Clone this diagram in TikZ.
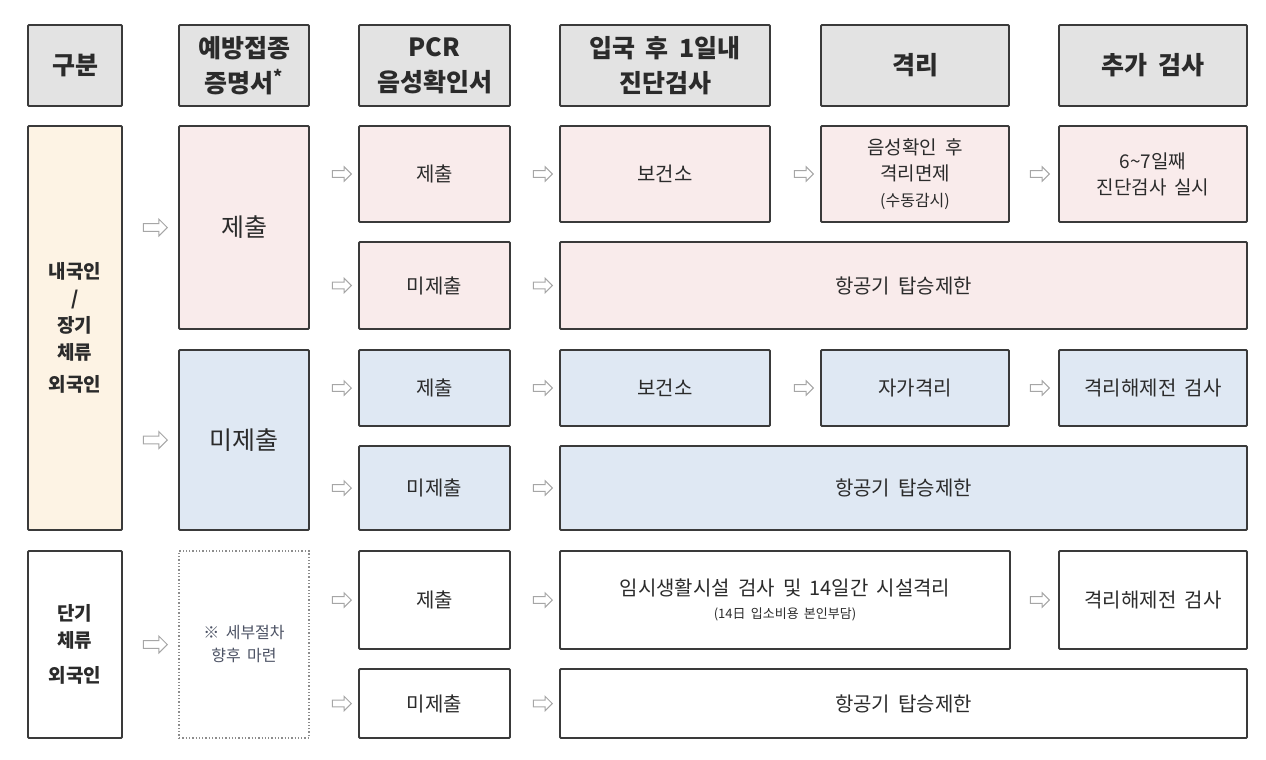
\documentclass[tikz,border=0pt]{standalone}
\usepackage{fontspec}
\setmainfont{Noto Sans CJK KR}[WordSpace=1.8]
\usetikzlibrary{positioning,shapes.arrows}

\definecolor{headgray}{HTML}{E3E3E3}
\definecolor{domyellow}{HTML}{FDF3E4}
\definecolor{rowpink}{HTML}{F9EBEB}
\definecolor{rowblue}{HTML}{DFE8F3}
\definecolor{edge}{HTML}{3A3A3A}
\definecolor{ink}{HTML}{2B2B2B}
\definecolor{note}{HTML}{4C5264}

\tikzset{
  box/.style={draw=edge, line width=1.8pt, rounded corners=1pt, inner sep=0pt, outer sep=0pt, align=center, text=ink},
  head/.style={box, fill=headgray, minimum height=81pt, font=\bfseries\fontsize{25}{35}\selectfont},
  group/.style={box, font=\bfseries\fontsize{19}{27}\selectfont},
  sub/.style={box, font=\fontsize{20}{28}\selectfont},
  big/.style={box, font=\fontsize{25}{30}\selectfont},
  hollow/.style={single arrow, draw=gray!70, fill=white, line width=1pt, minimum height=19pt, inner sep=2.8pt, single arrow head extend=3.8pt},
  bighollow/.style={hollow, minimum height=24pt, inner sep=3.4pt, single arrow head extend=4.6pt},
}

\begin{document}
\begin{tikzpicture}[x=1pt, y=-1pt]
    \useasboundingbox (0,0) rectangle (1266,760);

    % Header row
    \node[head, minimum width=94pt] (gubun) at (75,65.5) {구분};
    \node[head, minimum width=130pt] (vacc) at (244,65.5) {예방접종\\증명서\textsuperscript{*}};
    \node[head, minimum width=151pt] (pcr) at (434.5,65.5) {PCR\\음성확인서};
    \node[head, minimum width=210pt] (test) at (665,65.5) {입국 후 1일내\\진단검사};
    \node[head, minimum width=188pt] (quar) at (915,65.5) {격리};
    \node[head, minimum width=188pt] (extra) at (1153,65.5) {추가 검사};

    % Groups
    \node[group, fill=domyellow, minimum width=94pt, minimum height=404pt] (dom) at (75,328)
        {내국인\\/\\장기\\체류\\[5pt]외국인};
    \node[group, fill=white, minimum width=94pt, minimum height=187pt] (short) at (75,644.5)
        {단기\\체류\\[8pt]외국인};

    % Vaccination certificate submitted
    \node[big, fill=rowpink, minimum width=130pt, minimum height=203pt] (vaccYes) at (244,227.5) {제출};
    \node[sub, fill=rowpink, minimum width=151pt, minimum height=96pt] (pcrYesA) at (434.5,174) {제출};
    \node[sub, fill=rowpink, minimum width=151pt, minimum height=87pt] (pcrNoA) at (434.5,285.5) {미제출};
    \node[sub, fill=rowpink, minimum width=210pt, minimum height=96pt] (testA) at (665,174) {보건소};
    \node[sub, fill=rowpink, minimum width=188pt, minimum height=96pt, font=\fontsize{19}{26}\selectfont] (quarA) at (915,174)
        {음성확인 후\\격리면제\\{\fontsize{16}{20}\selectfont (수동감시)}};
    \node[sub, fill=rowpink, minimum width=188pt, minimum height=96pt, font=\fontsize{19}{26}\selectfont] (extraA) at (1153,174)
        {6\textasciitilde7일째\\진단검사 실시};
    \node[sub, fill=rowpink, minimum width=687pt, minimum height=87pt] (banA) at (903.5,285.5) {항공기 탑승제한};

    % Vaccination certificate not submitted
    \node[big, fill=rowblue, minimum width=130pt, minimum height=180pt] (vaccNo) at (244,440) {미제출};
    \node[sub, fill=rowblue, minimum width=151pt, minimum height=76pt] (pcrYesB) at (434.5,388) {제출};
    \node[sub, fill=rowblue, minimum width=151pt, minimum height=84pt] (pcrNoB) at (434.5,488) {미제출};
    \node[sub, fill=rowblue, minimum width=210pt, minimum height=76pt] (testB) at (665,388) {보건소};
    \node[sub, fill=rowblue, minimum width=188pt, minimum height=76pt] (quarB) at (915,388) {자가격리};
    \node[sub, fill=rowblue, minimum width=188pt, minimum height=76pt] (extraB) at (1153,388) {격리해제전 검사};
    \node[sub, fill=rowblue, minimum width=687pt, minimum height=84pt] (banB) at (903.5,488) {항공기 탑승제한};

    % Short-term stay
    \node[box, draw=gray!90, line width=1.3pt, dotted, rounded corners=0pt, minimum width=130pt, minimum height=187pt,
          text=note, font=\fontsize{16}{23}\selectfont] (tbd) at (244,644.5) {※ 세부절차\\향후 마련};
    \node[sub, fill=white, minimum width=151pt, minimum height=98pt] (pcrYesC) at (434.5,600) {제출};
    \node[sub, fill=white, minimum width=151pt, minimum height=69pt] (pcrNoC) at (434.5,703.5) {미제출};
    \node[sub, fill=white, minimum width=450pt, minimum height=98pt] (facility) at (785,600)
        {임시생활시설 검사 및 14일간 시설격리\\[-5pt]{\fontsize{13}{15}\selectfont (14日 입소비용 본인부담)}};
    \node[sub, fill=white, minimum width=188pt, minimum height=98pt] (extraC) at (1153,600) {격리해제전 검사};
    \node[sub, fill=white, minimum width=687pt, minimum height=69pt] (banC) at (903.5,703.5) {항공기 탑승제한};

    % Arrows
    \foreach \t in {vaccYes,vaccNo,tbd}
        \node[bighollow, left=11pt of \t] (arr-\t) {};
    \foreach \t in {pcrYesA,pcrNoA,testA,banA,quarA,pcrYesB,pcrNoB,testB,banB,quarB,pcrYesC,pcrNoC,facility,banC}
        \node[hollow, left=7pt of \t] (arr-\t) {};
    \foreach \t in {extraA,extraB,extraC}
        \node[hollow, left=9pt of \t] (arr-\t) {};
\end{tikzpicture}
\end{document}
